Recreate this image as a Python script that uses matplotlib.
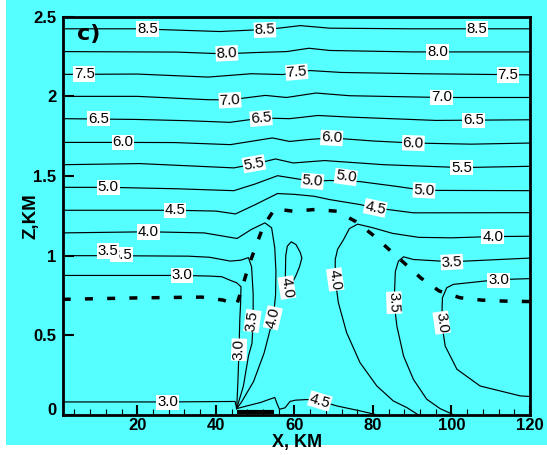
import matplotlib
matplotlib.use('Agg')
import matplotlib.pyplot as plt
from matplotlib.patches import Rectangle
from matplotlib.ticker import MultipleLocator
from matplotlib.transforms import ScaledTranslation

plt.rcParams['font.family'] = ['Liberation Sans', 'DejaVu Sans']

# ---------------- data ----------------
c85_x = [1, 20, 41, 50, 56, 61.5, 69, 90, 120]
c85_z = [2.424, 2.424, 2.407, 2.417, 2.428, 2.444, 2.428, 2.424, 2.424]

c80_x = [1, 30, 42, 50, 58, 63.7, 69, 90, 120]
c80_z = [2.281, 2.278, 2.267, 2.275, 2.281, 2.302, 2.288, 2.279, 2.279]

c75_x = [1, 20, 38, 49, 57, 60.6, 64, 72, 92, 120]
c75_z = [2.138, 2.14, 2.121, 2.142, 2.137, 2.15, 2.162, 2.15, 2.142, 2.135]

c70_x = [1, 20, 38, 43.5, 52.6, 58, 65.5, 74, 97.5, 120]
c70_z = [2.0, 2.0, 1.979, 1.978, 2.006, 1.993, 2.021, 2.004, 1.993, 1.993]

c65_x = [1, 20, 33, 43.6, 51.7, 58.8, 66, 74, 96, 120]
c65_z = [1.86, 1.855, 1.847, 1.837, 1.864, 1.86, 1.88, 1.87, 1.849, 1.853]

c60_x = [1, 16.6, 29.5, 43.7, 54.4, 58.8, 64, 69.5, 80, 90.4, 105, 120]
c60_z = [1.711, 1.711, 1.71, 1.697, 1.739, 1.717, 1.73, 1.739, 1.72, 1.707, 1.70, 1.707]

c55_x = [1, 20.6, 44.6, 49.7, 55.2, 59.7, 67.7, 82.8, 102.6, 120]
c55_z = [1.571, 1.578, 1.551, 1.575, 1.607, 1.582, 1.597, 1.571, 1.553, 1.561]

c50_x = [1, 12.6, 30, 44.6, 50, 55.7, 60, 64.6, 69, 76.7, 86, 93, 120]
c50_z = [1.429, 1.429, 1.42, 1.408, 1.45, 1.502, 1.485, 1.467, 1.472, 1.465, 1.435, 1.41, 1.408]

c45_x = [1, 29.6, 40, 45, 50, 55.7, 60, 65, 69, 76.7, 80.6, 90.3, 120]
c45_z = [1.285, 1.285, 1.28, 1.262, 1.32, 1.39, 1.385, 1.373, 1.352, 1.321, 1.30, 1.269, 1.27]

c40a_x = [1, 22.8, 37, 45.4, 49, 52.5, 54.2, 55, 55.3, 55.2, 54.6, 52.3, 49.6, 46.5, 45.3]
c40a_z = [1.143, 1.15, 1.143, 1.108, 1.164, 1.206, 1.175, 1.05, 0.9, 0.75, 0.61, 0.39, 0.21, 0.08, 0.04]

c40b_x = [58.0, 57.7, 57.8, 58.2, 59.2, 60.4, 61.5, 61.9, 61.3, 60.3, 59.2, 58.5]
c40b_z = [0.80, 0.87, 1.0, 1.06, 1.087, 1.07, 1.02, 0.985, 0.93, 0.87, 0.82, 0.80]

c40c_x = [120, 110.5, 100, 91.7, 85, 80, 76.1, 74, 72.5, 71, 70.4, 70.4, 71.2, 73.3, 76.7, 81, 85.2, 88.6, 91.5]
c40c_z = [1.122, 1.12, 1.112, 1.115, 1.14, 1.175, 1.198, 1.17, 1.10, 1.04, 0.976, 0.851, 0.705, 0.517, 0.329, 0.182, 0.088, 0.047, 0.002]

c35a_x = [1, 12.5, 33, 38.4, 43.7, 46.4, 48.3, 49.1, 49.5, 49.5, 49.2, 48.3, 47, 45.9, 45.3]
c35a_z = [1.0, 1.0, 0.997, 0.99, 0.966, 0.972, 0.988, 0.93, 0.76, 0.59, 0.45, 0.37, 0.18, 0.09, 0.04]

c35b_x = [120, 100.1, 90.3, 87.8, 86.5, 85.7, 85.4, 86.1, 87.8, 90.3, 93.7, 97.1, 100.5]
c35b_z = [0.985, 0.962, 0.976, 0.993, 0.966, 0.90, 0.705, 0.558, 0.37, 0.224, 0.099, 0.04, 0.002]

c30a_x = [1, 31.3, 38.4, 41.5, 43.7, 45.3, 46.4, 46.3, 46.1, 45.9, 45.6, 45.3]
c30a_z = [0.876, 0.876, 0.872, 0.868, 0.845, 0.83, 0.805, 0.7, 0.6, 0.41, 0.2, 0.04]

c30b_x = [1, 27.7, 44.9, 45.3]
c30b_z = [0.082, 0.082, 0.085, 0.04]

c30c_x = [120, 112, 100.5, 98.8, 97.7, 97.5, 98.4, 101.4, 107.3, 117.5, 120]
c30c_z = [0.856, 0.85, 0.82, 0.799, 0.736, 0.58, 0.433, 0.287, 0.182, 0.12, 0.116]

c45b_x = [45.3, 47.9, 51.3, 55, 55.6, 56.2, 57.6, 58.9, 60.2, 63.2, 66.5, 70.8, 76.7, 80.5]
c45b_z = [0.04, 0.057, 0.078, 0.11, 0.07, 0.036, 0.045, 0.085, 0.093, 0.097, 0.088, 0.057, 0.026, 0.004]

dash_x = [1, 20, 36.4, 41.9, 45.3, 46.8, 48.4, 50.2, 52.1, 55, 59.7, 65.3, 70.8, 75.5, 80,
          84.1, 88.2, 92.2, 96.9, 102.2, 107.7, 113.4, 120]
dash_z = [0.726, 0.735, 0.74, 0.721, 0.69, 0.809, 0.939, 1.06, 1.185, 1.294, 1.279, 1.29, 1.279,
          1.216, 1.13, 1.039, 0.949, 0.86, 0.778, 0.736, 0.721, 0.715, 0.712]

ridge_x = [45.3, 54.8]
ridge_z = [0.018, 0.018]

contour_lines = [(c85_x, c85_z), (c80_x, c80_z), (c75_x, c75_z), (c70_x, c70_z),
                 (c65_x, c65_z), (c60_x, c60_z), (c55_x, c55_z), (c50_x, c50_z),
                 (c45_x, c45_z), (c40a_x, c40a_z), (c40b_x, c40b_z), (c40c_x, c40c_z),
                 (c35a_x, c35a_z), (c35b_x, c35b_z), (c30a_x, c30a_z), (c30b_x, c30b_z),
                 (c30c_x, c30c_z), (c45b_x, c45b_z)]

# contour labels: text, x, z, rotation (drawn in order, later on top)
label_text = ['8.5', '8.5', '8.5', '8.0', '8.0', '7.5', '7.5', '7.5', '7.0', '7.0',
              '6.5', '6.5', '6.5', '6.0', '6.0', '6.0', '5.5', '5.5',
              '5.0', '5.0', '5.0', '5.0', '4.5', '4.5',
              '4.0', '4.0', '4.0', '4.0', '4.0',
              '3.5', '3.5', '3.5', '3.5', '3.5',
              '3.0', '3.0', '3.0', '3.0', '3.0', '4.5']
label_x = [22.6, 52.5, 106.5, 42.8, 96.4, 6.5, 60.6, 114.4, 43.6, 97.5,
           10.1, 51.5, 105.6, 16.4, 69.5, 90.3, 49.7, 102.6,
           12.6, 64.6, 73.1, 93.0, 29.6, 80.6,
           22.8, 110.5, 54.5, 58.1, 70.4,
           16.0, 12.5, 49.3, 100.1, 85.4,
           31.3, 27.7, 45.9, 112.0, 97.5, 66.5]
label_z = [2.424, 2.417, 2.424, 2.27, 2.28, 2.14, 2.152, 2.135, 1.976, 1.993,
           1.86, 1.862, 1.849, 1.711, 1.739, 1.707, 1.577, 1.553,
           1.429, 1.467, 1.494, 1.41, 1.285, 1.30,
           1.15, 1.12, 0.61, 0.80, 0.851,
           1.007, 1.03, 0.59, 0.96, 0.705,
           0.876, 0.08, 0.41, 0.845, 0.58, 0.088]
label_rot = [0, 2, 0, 3, 0, 0, 5, 0, 3, 0,
             0, 5, 0, 0, -3, -2, 10, 0,
             0, -5, -8, -3, 0, -12,
             0, 0, 77, -81, -82,
             0, 0, 82, 3, -88,
             0, 0, 88, 0, -82, -17]

xticks = [20, 40, 60, 80, 100, 120]
xticklabels = ['20', '40', '60', '80', '100', '120']
yticks = [0, 0.5, 1, 1.5, 2, 2.5]
yticklabels = ['0', '0.5', '1', '1.5', '2', '2.5']

# ---------------- drawing ----------------
CYAN = '#55FFFF'
fig = plt.figure(figsize=(5.47, 4.55), dpi=100)
fig.patch.set_facecolor('white')
fig.add_artist(Rectangle((6 / 547, 10 / 455), 541 / 547, 445 / 455,
                         transform=fig.transFigure, facecolor=CYAN,
                         edgecolor='none', zorder=-10))

ax = fig.add_axes([63.3 / 547, 1 - 415 / 455, (530 - 63.3) / 547, (415 - 16.7) / 455])
ax.set_facecolor(CYAN)

for xs, zs in contour_lines:
    ax.plot(xs, zs, color='black', lw=0.85, zorder=2)

ax.plot(dash_x, dash_z, color='black', lw=2.5, linestyle=(0, (2.3, 4.1)),
        dash_capstyle='butt', zorder=3)
ax.plot(ridge_x, ridge_z, color='black', lw=3, solid_capstyle='butt', zorder=3)

for s, x, z, r in zip(label_text, label_x, label_z, label_rot):
    ax.text(x, z, s, rotation=r, rotation_mode='anchor', ha='center', va='center',
            fontsize=10.8, color='black', zorder=5,
            bbox=dict(boxstyle='square,pad=0.05', fc='white', ec='none'))

ax.text(4.6, 2.393, 'c)', fontsize=16, fontweight='bold', ha='left', va='center',
        family='DejaVu Sans', zorder=5)

ax.set_xlim(1.15, 120)
ax.set_ylim(0, 2.5)

ax.set_xticks(xticks)
ax.set_xticklabels(xticklabels, fontweight='bold', fontsize=12)
ax.xaxis.set_minor_locator(MultipleLocator(4))
ax.set_yticks(yticks)
ax.set_yticklabels(yticklabels, fontweight='bold', fontsize=12)
ax.tick_params(axis='x', which='major', direction='in', length=7, width=1.5, pad=2.5,
               top=False)
ax.tick_params(axis='x', which='minor', direction='in', length=4, width=0.8, top=False)
ax.tick_params(axis='y', which='major', direction='in', length=8, width=1.5, pad=5,
               right=False)
for sp in ax.spines.values():
    sp.set_linewidth(2)

# the "0" label of the z axis sits a little above the axis line in the reference
zero_lab = ax.yaxis.get_major_ticks()[0].label1
zero_lab.set_transform(zero_lab.get_transform() + ScaledTranslation(0, 6 / 100, fig.dpi_scale_trans))

fig.text(296.6 / 547, 1 - 443 / 455, 'X, KM', ha='center', va='center',
         fontsize=13, fontweight='bold')
fig.text(31.4 / 547, 1 - 216 / 455, 'Z,KM', ha='center', va='center', rotation=90,
         fontsize=13.5, fontweight='bold')

fig.savefig('out.png', dpi=100)
